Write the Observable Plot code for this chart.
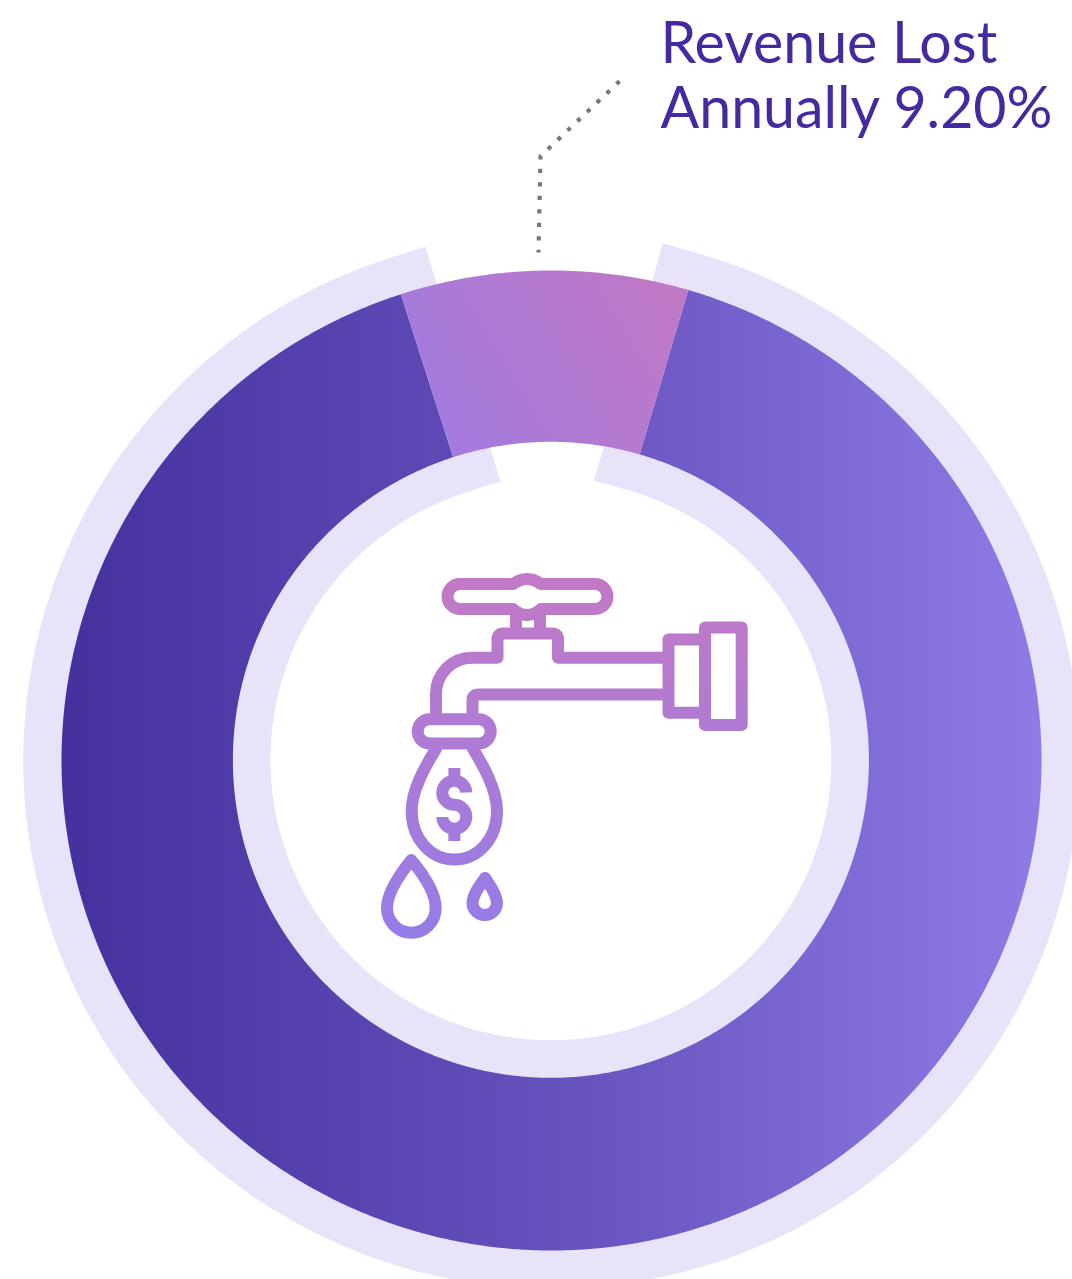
<!DOCTYPE html>
<html>
<head>
<meta charset="utf-8">
<script src="https://cdn.jsdelivr.net/npm/d3@7"></script>
<script src="https://cdn.jsdelivr.net/npm/@observablehq/plot@0.6"></script>
<style>
  html, body { margin: 0; padding: 0; background: #fff; overflow: hidden; }
  svg { display: block; }
</style>
</head>
<body>
<div id="chart"></div>
<script>
// Chart content
const labelLines = ["Revenue Lost", "Annually 9.20%"];
const labelX = [660, 660];
const labelY = [62, 127];
const lostShare = 9.2;

// Angles (degrees clockwise from 12 o'clock)
const sliceStart = [-17.9];
const sliceEnd = [16.2];
const center = [551, 760];
const innerCenter = [550.4, 759.3];
const ringRadii = [318, 490];
const outerBandRadii = [489, 528.2];
const innerBandRadii = [280.4, 319];

// Ends of the pale bands: [radius, angle] of each corner, and where the flattened run joins the circle
const outerBandCorners = { rightOut: [529, 12.15], rightIn: [490, 11.85], leftOut: [529, -13.8], leftIn: [491, -13.55] };
const innerBandCorners = { rightOut: [318, 9.48], rightIn: [283, 8.59], leftOut: [318, -11.07], leftIn: [283.6, -10.36] };
const outerBandJoin = [22.5, -24];
const innerBandJoin = [21.5, -23];

// Leader line
const leaderX = [619, 540, 538];
const leaderY = [80.7, 155.7, 252];

// Colours
const bandColor = "#e8e3f9";
const textColor = "#4529a0";
const leaderColor = "#777777";

// Faucet icon
const iconOutlines = [
  "M460,584 H513 Q520,579 527,579 Q534,579 541,584 H595 A12.5,12.5 0 0 1 595,609 H541 Q534,615 527,615 Q520,615 513,609 H460 A12.5,12.5 0 0 1 460,584 Z",
  "M516,613 V633 M540,613 V633",
  "M436,715 V693.7 A36,36 0 0 1 472,657.7 H497.5 V639.5 Q497.5,633.5 503.5,633.5 H552 Q558,633.5 558,639.5 V657.7 H668",
  "M668,694.5 H478.5 Q472.5,694.5 472.5,700.5 V715",
  "M705,639.5 H668.5 V712.8 H705",
  "M705,627.5 H741.7 V725 H705 Z",
  "M417.7,731.4 A12.1,12.1 0 0 1 429.8,719.3 H478.6 A12.1,12.1 0 0 1 478.6,743.5 H429.8 A12.1,12.1 0 0 1 417.7,731.4 Z",
  "M437,747 C428,762 411.7,788 411.7,811 C411.7,838 430,859.5 454.5,859.5 C479,859.5 497,838 497,811 C497,788 481,762 472,747",
  "M466.3,792.5 A12,12 0 1 0 454.3,804.8 A12,12 0 1 1 442.3,817 M454.4,768 V780 M454.4,829 V841",
  "M411.3,860 C400,874 387,893 387,908 A24.3,24.7 0 0 0 435.7,908 C435.7,893 423,874 411.3,860 Z",
  "M485,878 C480,885 472.5,895 472.5,903 A12.2,12 0 0 0 497,903 C497,895 490,885 485,878 Z"
];

const pt = (r, deg, c = center) => {
  const a = deg * Math.PI / 180;
  return { x: c[0] + r * Math.sin(a), y: c[1] - r * Math.cos(a) };
};
const arc = (r, a0, a1, c = center) => {
  const n = Math.ceil(Math.abs(a1 - a0) * 4);
  return d3.range(n + 1).map(i => pt(r, a0 + (a1 - a0) * i / n, c));
};
const closed = p => [...p, p[0]];

// Flattened run from a band's end corner to where it meets the circle (tangent there)
const flatRun = (corner, r, joinDeg, c) => {
  const p0 = pt(...corner, center);
  const p2 = pt(r, joinDeg, c);
  const a = joinDeg * Math.PI / 180;
  const sign = joinDeg > 0 ? -1 : 1; // towards the gap
  const len = 0.35 * Math.hypot(p2.x - p0.x, p2.y - p0.y);
  const p1 = { x: p2.x + sign * len * Math.cos(a), y: p2.y + sign * len * Math.sin(a) };
  return d3.range(25).map(i => {
    const t = i / 24, u = 1 - t;
    return { x: u * u * p0.x + 2 * u * t * p1.x + t * t * p2.x, y: u * u * p0.y + 2 * u * t * p1.y + t * t * p2.y };
  });
};

const slice = (a0, a1) => closed([
  ...arc(ringRadii[1], a0, a1, center),
  ...arc(ringRadii[0], a1, a0, innerCenter)
]);

const lostSlice = slice(sliceStart[0], sliceEnd[0]);
const restSlice = slice(sliceEnd[0], 360 + sliceStart[0]);

const outerBand = closed([
  ...flatRun(outerBandCorners.rightOut, outerBandRadii[1], outerBandJoin[0], center),
  ...arc(outerBandRadii[1], outerBandJoin[0], 360 + outerBandJoin[1], center),
  ...flatRun(outerBandCorners.leftOut, outerBandRadii[1], outerBandJoin[1], center).reverse(),
  pt(...outerBandCorners.leftIn),
  ...arc(outerBandRadii[0], 360 + outerBandCorners.leftIn[1], outerBandCorners.rightIn[1], center),
  pt(...outerBandCorners.rightIn)
]);

const innerBand = closed([
  pt(...innerBandCorners.rightOut),
  ...arc(innerBandRadii[1], innerBandCorners.rightOut[1], 360 + innerBandCorners.leftOut[1], innerCenter),
  pt(...innerBandCorners.leftOut),
  ...flatRun(innerBandCorners.leftIn, innerBandRadii[0], innerBandJoin[1], innerCenter),
  ...arc(innerBandRadii[0], 360 + innerBandJoin[1], innerBandJoin[0], innerCenter),
  ...flatRun(innerBandCorners.rightIn, innerBandRadii[0], innerBandJoin[0], innerCenter).reverse()
]);

const leader = leaderX.map((x, i) => ({ x, y: leaderY[i] }));
const labels = labelLines.map((text, i) => ({ text, x: labelX[i], y: labelY[i] }));

function gradients(index, { x, y }) {
  const defs = d3.create("svg:defs");
  const add = (id, x1, y1, x2, y2, stops) => {
    const g = defs.append("linearGradient").attr("id", id)
      .attr("gradientUnits", "userSpaceOnUse")
      .attr("x1", x(x1)).attr("y1", y(y1)).attr("x2", x(x2)).attr("y2", y(y2));
    stops.forEach(([o, c]) => g.append("stop").attr("offset", o).attr("stop-color", c));
  };
  add("ringGrad", 61, 0, 1041, 0, [[0, "#46309e"], [0.5, "#6650bc"], [1, "#8f7ae6"]]);
  add("sliceGrad", 440, 440, 690, 290, [[0, "#a27bde"], [1, "#c278c4"]]);
  add("iconGrad", 0, 573, 0, 940, [[0, "#c379c5"], [1, "#957ce7"]]);
  return defs.node();
}

function faucet() {
  const g = d3.create("svg:g")
    .attr("fill", "none")
    .attr("stroke", "url(#iconGrad)")
    .attr("stroke-width", 12)
    .attr("stroke-linejoin", "round");
  g.append("path").attr("d", iconOutlines.join(" "));
  return g.node();
}

const chart = Plot.plot({
  width: 1072,
  height: 1279,
  margin: 0,
  x: { domain: [0, 1072], range: [0, 1072], axis: null },
  y: { domain: [0, 1279], range: [0, 1279], axis: null },
  style: { background: "#fff" },
  marks: [
    gradients,
    Plot.line(outerBand, { x: "x", y: "y", fill: bandColor, stroke: "none" }),
    Plot.line(innerBand, { x: "x", y: "y", fill: bandColor, stroke: "none" }),
    Plot.line(restSlice, { x: "x", y: "y", fill: "url(#ringGrad)", stroke: "none" }),
    Plot.line(lostSlice, { x: "x", y: "y", fill: "url(#sliceGrad)", stroke: "none" }),
    Plot.line(leader, { x: "x", y: "y", stroke: leaderColor, strokeWidth: 4.2, strokeDasharray: "4.2 9.3", strokeLinecap: "butt", strokeLinejoin: "miter" }),
    faucet,
    Plot.text(labels, {
      x: "x", y: "y", text: "text", textAnchor: "start", lineAnchor: "bottom",
      fontFamily: "Lato", fontSize: 57.3, fill: textColor
    })
  ]
});
document.getElementById("chart").append(chart);
</script>
</body>
</html>
